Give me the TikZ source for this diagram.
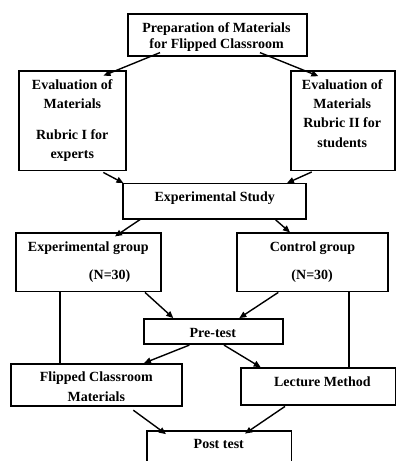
\documentclass[tikz,border=0pt]{standalone}
\usepackage{fontspec}
\setmainfont{Liberation Serif}
\usetikzlibrary{arrows.meta}
\begin{document}
\begin{tikzpicture}[x=1pt,y=-1pt,
  box/.style={draw=black,line width=1.8pt,rectangle,inner sep=0pt,fill=none},
  txt/.style={font=\fontsize{14}{16}\selectfont\bfseries,anchor=base,inner sep=0pt},
  arr/.style={line width=1.4pt,-{Triangle[length=7pt,width=6pt]}},
  ln/.style={line width=1.4pt}]
\useasboundingbox (0,0) rectangle (396,461);
\clip (0,0) rectangle (396,461);
% boxes
\node[box,minimum width=179pt,minimum height=41.7pt] (prep) at (217.2,34.85) {};
\node[box,minimum width=106.7pt,minimum height=99.5pt] (evalL) at (72.3,120.8) {};
\node[box,minimum width=104.3pt,minimum height=99.5pt] (evalR) at (342.85,120.8) {};
\node[box,minimum width=182.7pt,minimum height=35.5pt] (study) at (214.7,201.25) {};
\node[box,minimum width=145.3pt,minimum height=58.8pt] (expg) at (88.3,262.1) {};
\node[box,minimum width=150.4pt,minimum height=58.8pt] (ctrl) at (312.5,262.1) {};
\node[box,minimum width=138.7pt,minimum height=25.4pt] (pre) at (213.3,331.5) {};
\node[box,minimum width=171.6pt,minimum height=41.7pt] (flip) at (96.5,384.85) {};
\node[box,minimum width=154.8pt,minimum height=37pt] (lect) at (318.1,386.7) {};
\node[box,minimum width=144.8pt,minimum height=44pt] (post) at (219.1,453) {};
% texts
\node[txt] at (216.4,32) {Preparation of Materials};
\node[txt] at (216.6,48) {for Flipped Classroom};
\node[txt] at (72.2,89.5) {Evaluation of};
\node[txt] at (72.4,108.5) {Materials};
\node[txt] at (72.3,139.5) {Rubric I for};
\node[txt] at (72.3,158.5) {experts};
\node[txt] at (342.2,89.5) {Evaluation of};
\node[txt] at (342.2,108.5) {Materials};
\node[txt] at (342.2,127.8) {Rubric II for};
\node[txt] at (342.2,147) {students};
\node[txt] at (214.7,201.8) {Experimental Study};
\node[txt] at (88.3,251.2) {Experimental group};
\node[txt] at (109.7,279.3) {(N=30)};
\node[txt] at (312.5,251.2) {Control group};
\node[txt] at (312.2,279.3) {(N=30)};
\node[txt] at (212.8,337.2) {Pre-test};
\node[txt] at (96.3,381.8) {Flipped Classroom};
\begin{scope}
\clip (0,0) rectangle (396,400);
\node[txt] at (96.3,401.6) {Materials};
\end{scope}
\node[txt] at (322.3,386.8) {Lecture Method};
\node[txt] at (218.8,448.8) {Post test};
% arrows
\draw[arr] ([shift={(-57.2,-4)}]prep.south) -- ([shift={(31.2,5.5)}]evalL.north);
\draw[arr] ([shift={(42.8,-4)}]prep.south) -- ([shift={(-24.5,6)}]evalR.north);
\draw[arr] ([shift={(31,1)}]evalL.south) -- ([shift={(1,0.5)}]study.north west);
\draw[arr] ([shift={(-31.1,0.5)}]evalR.south) -- ([shift={(-20,0.5)}]study.north east);
\draw[arr] ([shift={(-73.7,-1)}]study.south) -- ([shift={(26.7,4.6)}]expg.north);
\draw[arr] ([shift={(61,0)}]study.south) -- ([shift={(-22.5,0.6)}]ctrl.north);
\draw[arr] ([shift={(56.7,0)}]expg.south) -- ([shift={(-40,0.2)}]pre.north);
\draw[arr] ([shift={(-34.2,0)}]ctrl.south) -- ([shift={(26,0.2)}]pre.north);
\draw[arr] ([shift={(-24,0)}]pre.south) -- ([shift={(47.5,0)}]flip.north);
\draw[arr] ([shift={(10.7,0)}]pre.south) -- ([shift={(-57.4,0)}]lect.north);
\draw[arr] ([shift={(36.8,3.6)}]flip.south) -- ([shift={(-53.1,4)}]post.north);
\draw[arr] ([shift={(-33.1,0.3)}]lect.south) -- ([shift={(25.9,3.5)}]post.north);
% plain lines
\draw[ln] ([xshift=-28.3]expg.south) -- ([xshift=-28.3]expg.south |- flip.north);
\draw[ln] ([xshift=36.5]ctrl.south) -- ([xshift=36.5]ctrl.south |- lect.north);
\end{tikzpicture}
\end{document}
